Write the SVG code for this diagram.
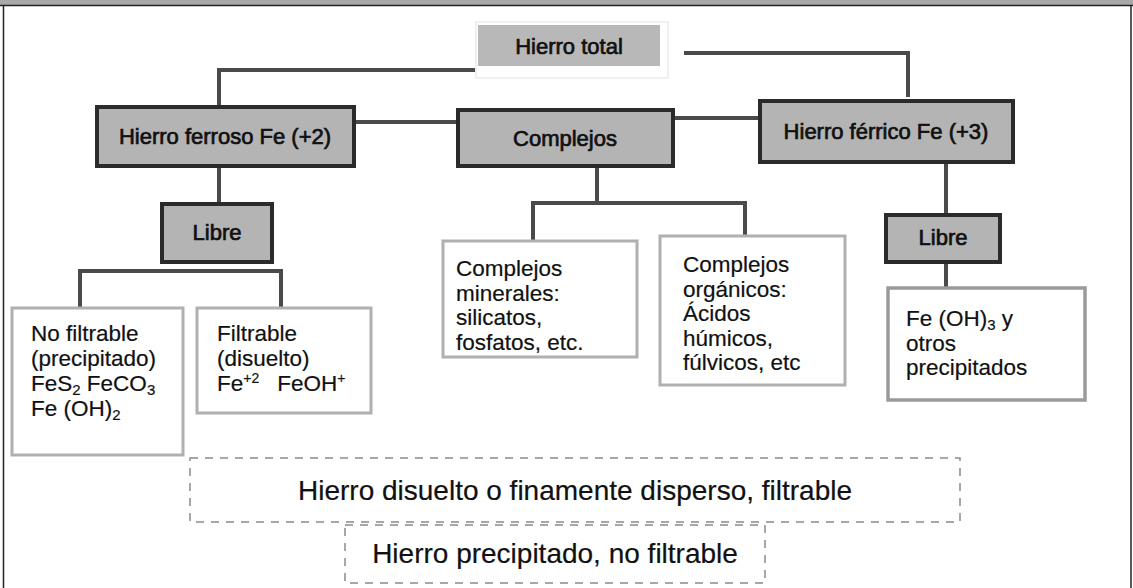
<svg xmlns="http://www.w3.org/2000/svg" width="1133" height="588" viewBox="0 0 1133 588">
<style>
.dark{fill:#b4b4b4;stroke:#2b2b2b;stroke-width:4}
.white{fill:#ffffff;stroke:#b0b0b0;stroke-width:3}
.dash{fill:none;stroke:#8a8a8a;stroke-width:1.5;stroke-dasharray:8 7}
.t{font-family:"Liberation Sans",Arial,sans-serif;fill:#111}
.title{font-size:22px;text-anchor:middle;stroke:#111;stroke-width:0.7}
.body{font-size:22.5px;stroke:#111;stroke-width:0.2}
.big{font-size:28px;text-anchor:middle;stroke:#111;stroke-width:0.2}
.con{fill:none;stroke:#4a4a4a;stroke-width:4}
</style>
<rect x="0" y="0" width="1133" height="588" fill="#ffffff"/>
<rect x="0" y="0" width="1133" height="5" fill="#a8a8a8"/>
<line x1="0" y1="5.5" x2="1133" y2="5.5" stroke="#222" stroke-width="1.5"/>
<line x1="3.5" y1="5" x2="3.5" y2="588" stroke="#222" stroke-width="1.5"/>
<line x1="1131" y1="5" x2="1131" y2="588" stroke="#222" stroke-width="1.5"/>

<g id="connectors">
<polyline class="con" points="475,70 219,70 219,107"/>
<polyline class="con" points="684,53 908,53 908,97"/>
<line class="con" x1="354" y1="122" x2="458" y2="122"/>
<line class="con" x1="673" y1="118" x2="760" y2="118"/>
<line class="con" x1="219" y1="166" x2="219" y2="204"/>
<polyline class="con" points="80,308 80,271 281,271 281,308"/>
<polyline class="con" points="533,242 533,203 745,203 745,236"/>
<line class="con" x1="597" y1="166" x2="597" y2="203"/>
<line class="con" x1="946" y1="162" x2="946" y2="215"/>
<line class="con" x1="946" y1="262" x2="946" y2="288"/>
</g>

<g id="hierro-total">
<rect x="476" y="22" width="192" height="56" fill="none" stroke="#e2e2e2" stroke-width="1"/>
<rect x="478" y="25" width="182" height="41" fill="#b8b8b8"/>
<text class="t title" x="569" y="54">Hierro total</text>
</g>

<g id="ferroso">
<rect class="dark" x="97" y="107" width="257" height="59"/>
<text class="t title" x="225" y="144">Hierro ferroso Fe (+2)</text>
</g>

<g id="complejos">
<rect class="dark" x="458" y="110" width="215" height="56"/>
<text class="t title" x="565" y="146">Complejos</text>
</g>

<g id="ferrico">
<rect class="dark" x="760" y="101" width="253" height="61"/>
<text class="t title" x="886" y="139">Hierro férrico Fe (+3)</text>
</g>

<g id="libre-ferroso">
<rect class="dark" x="162" y="204" width="110" height="58"/>
<text class="t title" x="217" y="240">Libre</text>
</g>

<g id="libre-ferrico">
<rect class="dark" x="886" y="215" width="114" height="47"/>
<text class="t title" x="943" y="245">Libre</text>
</g>

<g id="no-filtrable">
<rect class="white" x="12" y="308" width="171" height="147"/>
<text class="t body"><tspan x="31" y="341">No filtrable</tspan><tspan x="31" y="366">(precipitado)</tspan><tspan x="31" y="391">FeS<tspan font-size="15" dy="4">2</tspan><tspan dy="-4"> FeCO</tspan><tspan font-size="15" dy="4">3</tspan></tspan><tspan x="31" y="416">Fe (OH)<tspan font-size="15" dy="4">2</tspan></tspan></text>
</g>

<g id="filtrable">
<rect class="white" x="197" y="308" width="174" height="105"/>
<text class="t body"><tspan x="217" y="341">Filtrable</tspan><tspan x="217" y="366">(disuelto)</tspan><tspan x="217" y="391">Fe<tspan font-size="14" dy="-8">+2</tspan><tspan dx="18" dy="8">FeOH</tspan><tspan font-size="14" dy="-8">+</tspan></tspan></text>
</g>

<g id="complejos-minerales">
<rect class="white" x="443" y="241" width="194" height="116"/>
<text class="t body"><tspan x="456" y="276">Complejos</tspan><tspan x="456" y="301">minerales:</tspan><tspan x="456" y="325">silicatos,</tspan><tspan x="456" y="350">fosfatos, etc.</tspan></text>
</g>

<g id="complejos-organicos">
<rect class="white" x="660" y="236" width="185" height="149"/>
<text class="t body"><tspan x="683" y="272">Complejos</tspan><tspan x="683" y="297">orgánicos:</tspan><tspan x="683" y="321">Ácidos</tspan><tspan x="683" y="346">húmicos,</tspan><tspan x="683" y="370">fúlvicos, etc</tspan></text>
</g>

<g id="fe-oh3">
<rect x="888" y="288" width="197" height="112" fill="#fff" stroke="#9a9a9a" stroke-width="3.5"/>
<text class="t body"><tspan x="906" y="326">Fe (OH)<tspan font-size="15" dy="4">3</tspan><tspan dy="-4"> y</tspan></tspan><tspan x="906" y="351">otros</tspan><tspan x="906" y="375">precipitados</tspan></text>
</g>

<g id="disuelto">
<rect class="dash" x="190" y="458" width="770" height="64"/>
<text class="t big" x="575" y="500">Hierro disuelto o finamente disperso, filtrable</text>
</g>

<g id="precipitado">
<rect class="dash" x="345" y="525" width="420" height="58"/>
<text class="t big" x="555" y="563">Hierro precipitado, no filtrable</text>
</g>
</svg>
